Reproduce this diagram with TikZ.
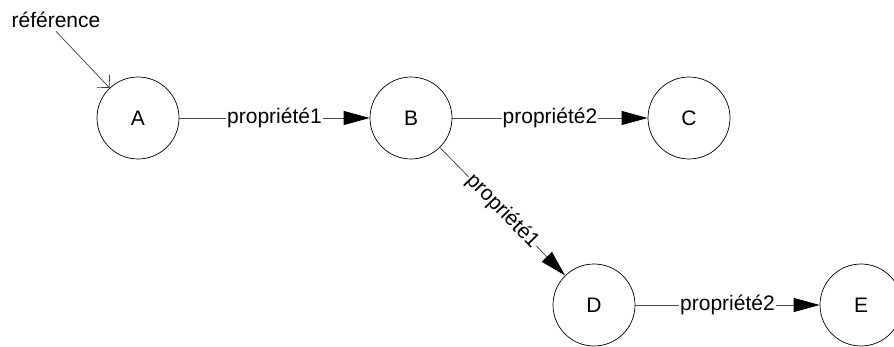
\documentclass[tikz,border=0pt]{standalone}
\usepackage{fontspec}
\setmainfont{Liberation Sans}
\usetikzlibrary{arrows.meta}

\begin{document}
\begin{tikzpicture}[x=1pt,y=-1pt,font=\fontsize{21}{25}\selectfont,
    res/.style={draw,circle,minimum size=82pt,inner sep=0pt,line width=0.7pt},
    prop/.style={-{Triangle[length=26pt,width=14pt,black]},draw=black!70,line width=0.8pt},
    lab/.style={fill=white,inner sep=1pt}]
    \useasboundingbox (0,0) rectangle (894,347);
    % la ressource de depart
    \node (ref) at (56,20) {référence};
    \node[res] (A) at (138,118) {A};
    \node[res] (B) at (411,118) {B};
    \node[res] (C) at (689,118) {C};
    \node[res] (D) at (594,305) {D};
    \node[res] (E) at (861,305) {E};
    \draw[-{Straight Barb[length=9pt,width=18pt]},draw=black!75,line width=0.7pt] (ref.south) -- (A);
    % les proprietes
    \draw[prop] (A) -- node[lab] {propriété1} (B);
    \draw[prop] (B) -- node[lab] {propriété2} (C);
    \draw[prop] (B) -- node[lab,sloped] {propriété1} (D);
    \draw[prop] (D) -- node[lab] {propriété2} (E);
\end{tikzpicture}
\end{document}
